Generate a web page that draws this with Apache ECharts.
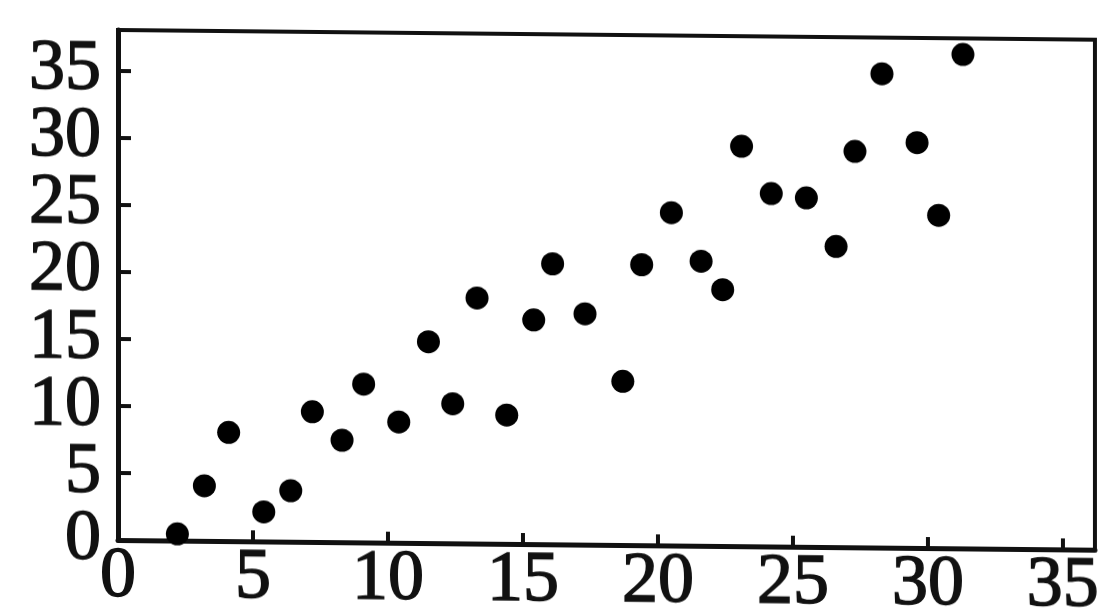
<!DOCTYPE html>
<html>
<head>
<meta charset="utf-8">
<script src="https://cdn.jsdelivr.net/npm/echarts@6/dist/echarts.min.js"></script>
<style>
  html, body { margin: 0; padding: 0; background: #fff; overflow: hidden; }
  #wrap { width: 1098px; height: 610px; transform: skewY(0.57deg); transform-origin: 118px 540px; }
  #chart { width: 1098px; height: 610px; }
</style>
</head>
<body>
<div id="wrap"><div id="chart"></div></div>
<script>
// Paired observations (x, y)
const xValues = [2.2, 3.2, 4.1, 5.4, 6.4, 7.2, 8.3, 9.1, 10.4, 11.5, 12.4, 13.3, 14.4, 15.4, 16.1,
                 17.3, 18.7, 19.4, 20.5, 21.6, 22.4, 23.1, 24.2, 25.5, 26.6, 27.3, 28.3, 29.6, 30.4, 31.3];
const yValues = [0.5, 4.1, 8.1, 2.2, 3.8, 9.7, 7.6, 11.8, 9.0, 15.0, 10.4, 18.3, 9.6, 16.7, 20.9,
                 17.2, 12.2, 20.9, 24.8, 21.2, 19.1, 29.8, 26.3, 26.0, 22.4, 29.5, 35.3, 30.2, 24.8, 36.8];
// Tick labels shown on both axes
const tickLabels = [0, 5, 10, 15, 20, 25, 30, 35];

const points = xValues.map((x, i) => [x, yValues[i]]);
const labelFont = 'Liberation Serif';
const isTick = v => tickLabels.indexOf(Math.round(v * 1000) / 1000) >= 0;
const showTick = v => (isTick(v) ? String(v) : '');

const labelText = {
  color: '#111', fontFamily: labelFont, fontSize: 72, lineHeight: 36,
  textBorderColor: '#111', textBorderWidth: 1.5, hideOverlap: false
};

const Y_MIN = 0, Y_MAX = 38, X_MIN = 0, X_MAX = 36.19, STEP = 5;

const chart = echarts.init(document.getElementById('chart'), null, { renderer: 'canvas' });
chart.setOption({
  animation: false,
  backgroundColor: '#fff',
  grid: {
    left: 118, top: 30, width: 977, height: 510,
    containLabel: false, outerBoundsMode: 'none',
    show: true, borderColor: '#111', borderWidth: 4, backgroundColor: 'transparent'
  },
  xAxis: {
    type: 'value', min: X_MIN, max: X_MAX, interval: STEP,
    splitLine: { show: false },
    axisLine: { show: true, onZero: false, lineStyle: { color: '#111', width: 5 } },
    axisTick: { show: true, inside: true, length: 11, lineStyle: { color: '#111', width: 4 } },
    axisLabel: Object.assign({}, labelText, { formatter: showTick, margin: 19, showMinLabel: true })
  },
  yAxis: [{
    // main value axis: 5 … 35
    type: 'value', min: Y_MIN, max: Y_MAX, interval: STEP,
    splitLine: { show: false },
    axisLine: { show: true, onZero: false, lineStyle: { color: '#111', width: 5 } },
    axisTick: { show: true, inside: true, length: 13, lineStyle: { color: '#111', width: 4 } },
    axisLabel: Object.assign({}, labelText, { formatter: showTick, margin: 17, showMinLabel: false })
  }, {
    // companion axis on the same scale carrying only the origin label
    type: 'value', position: 'left', min: Y_MIN, max: Y_MAX, interval: STEP,
    splitLine: { show: false },
    axisLine: { show: false },
    axisTick: { show: false },
    axisLabel: Object.assign({}, labelText, {
      formatter: v => (v === 0 ? '0' : ''), margin: 17, showMinLabel: true
    })
  }],
  series: [{
    type: 'scatter',
    yAxisIndex: 0,
    data: points,
    symbol: 'circle',
    symbolSize: 23,
    clip: false,
    itemStyle: { color: '#000', opacity: 1 }
  }]
});
</script>
</body>
</html>
